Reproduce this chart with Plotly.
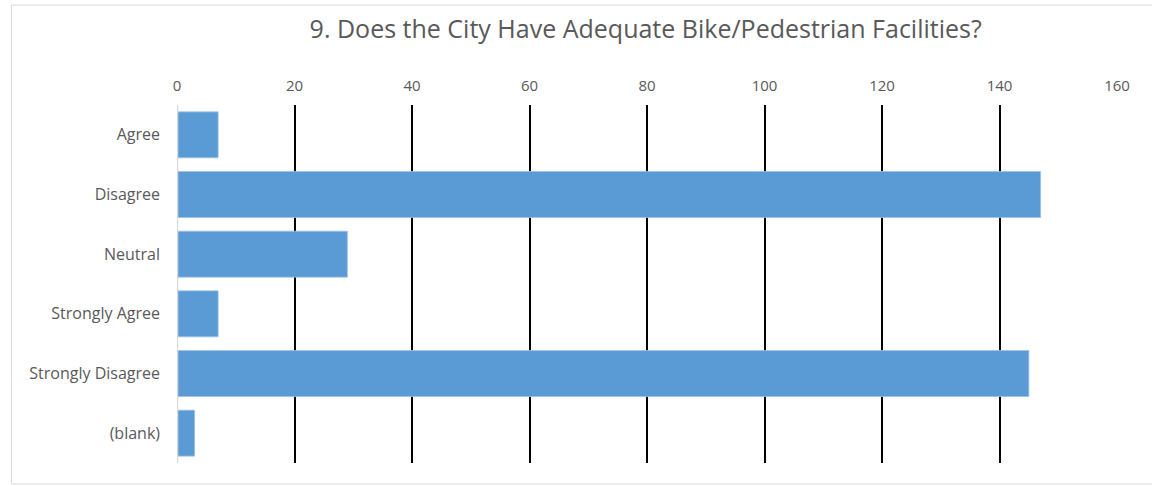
import plotly.graph_objects as go

categories = ["Agree", "Disagree", "Neutral", "Strongly Agree", "Strongly Disagree", "(blank)"]
counts = [7, 147, 29, 7, 145, 3]
tick_vals = [0, 20, 40, 60, 80, 100, 120, 140, 160]

fig = go.Figure(go.Bar(
    x=counts, y=categories, orientation="h",
    marker=dict(color="#5b9bd5", line=dict(color="#9dc3e6", width=0.8)),
))

fig.update_layout(
    width=1152, height=486,
    paper_bgcolor="white", plot_bgcolor="white",
    margin=dict(l=177, r=35, t=105, b=23),
    bargap=0.23,
    showlegend=False,
    title=dict(text="9. Does the City Have Adequate Bike/Pedestrian Facilities?",
               x=0.5605, xanchor="center", y=0.94, yanchor="middle",
               font=dict(family="Open Sans", size=25, color="#595959")),
    xaxis=dict(side="top", range=[0, 160], tickvals=tick_vals,
               showgrid=True, gridcolor="black", gridwidth=1.5,
               zeroline=False, showline=False, ticks="",
               tickfont=dict(family="Open Sans", size=15, color="#595959"),
               ticklabelstandoff=10),
    yaxis=dict(autorange="reversed", showgrid=False, zeroline=False,
               showline=False, ticks="",
               tickfont=dict(family="Open Sans", size=16, color="#595959"),
               ticklabelstandoff=16),
    shapes=[
        dict(type="line", xref="x", yref="paper", x0=0, x1=0, y0=0, y1=1,
             line=dict(color="#d9d9d9", width=2.5)),
        dict(type="rect", xref="paper", yref="paper", x0=-0.1761, x1=1.1, y0=-0.0587, y1=1.279,
             line=dict(color="#d9d9d9", width=1)),
    ],
)

fig.write_html("out.html", config={"displayModeBar": False},
               post_script="document.body.style.margin='0';document.body.style.overflow='hidden';")
